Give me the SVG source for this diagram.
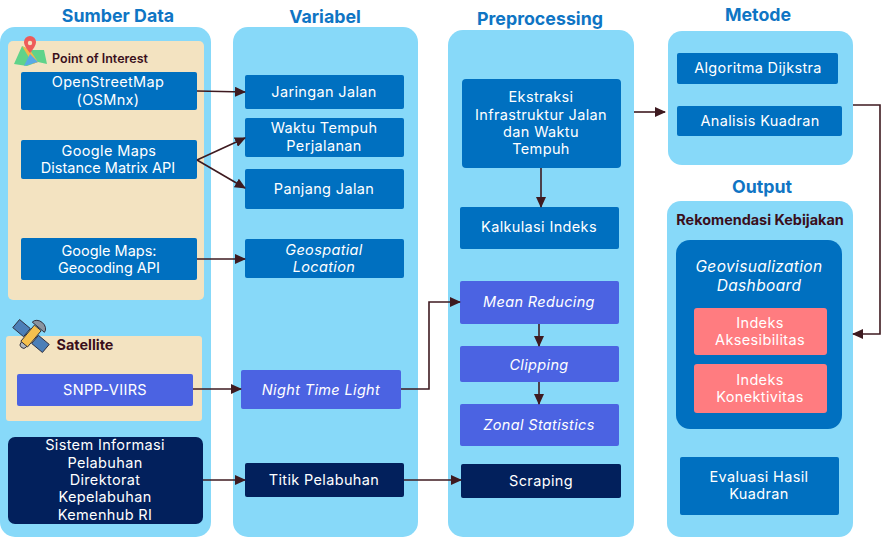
<svg xmlns="http://www.w3.org/2000/svg" width="886" height="537" viewBox="0 0 886 537">
<style>
text{font-family:"Inter","Liberation Sans",sans-serif;text-anchor:middle}
.h{font-size:17.8px;font-weight:700;fill:#0F75C4}
.t{font-size:14.5px;letter-spacing:.35px;fill:#fff}
.s{letter-spacing:0}
.i{font-style:italic}
.l{font-size:15.5px}
.d{font-size:14.4px;font-weight:700;fill:#3A0F1C}
.p{fill:#87D9F9}
.b{fill:#F3E3C1}
.blue{fill:#0070C0}
.ind{fill:#4B63E2}
.navy{fill:#02205C}
.red{fill:#FF7C80}
.c{fill:none;stroke:#3E1A20;stroke-width:1.6}
.o{stroke:#2b2b3a;stroke-width:1}
</style>
<defs><marker id="a" markerUnits="userSpaceOnUse" markerWidth="11" markerHeight="10" refX="10" refY="5" orient="auto"><path d="M0 0L11 5L0 10Z" fill="#3E1A20"/></marker></defs>
<g id="panels">
<rect class="p" x="0" y="27" width="211" height="510" rx="15"/>
<rect class="p" x="233" y="27" width="185" height="510" rx="15"/>
<rect class="p" x="448" y="30" width="186" height="507" rx="15"/>
<rect class="p" x="668" y="31" width="185" height="134" rx="14"/>
<rect class="p" x="667" y="201" width="186" height="336" rx="14"/>
<rect class="b" x="8" y="41" width="196" height="259" rx="5"/>
<rect class="b" x="6" y="336" width="196" height="85" rx="3"/>
</g>
<g id="titles">
<text class="h" x="118" y="22">Sumber Data</text>
<text class="h" x="325" y="23">Variabel</text>
<text class="h" x="540" y="25">Preprocessing</text>
<text class="h" x="758" y="21">Metode</text>
<text class="h" x="762" y="193">Output</text>
</g>
<g id="poi-label">
<path d="M14 64L22 46L30 50L44 50L47 64L38 62L27 66Z" fill="#5FD38A"/>
<path d="M22 46L30 50L38 62L33 64Z" fill="#F2B84B"/>
<path d="M24 66L30 54L38 62Z" fill="#5AA9E6"/>
<path d="M30 53C25 47 24 44 24 42A6 6 0 0 1 36 42C36 44 35 47 30 53Z" fill="#EE5A5A"/>
<circle cx="30" cy="43" r="2.2" fill="#F3E3C1"/>
<text class="d" x="100" y="63" style="font-size:12.5px;font-weight:600">Point of Interest</text>
</g>
<g id="sat-label">
<g transform="translate(31 336) rotate(40) scale(.88)">
<path class="o" d="M-9 -13A9 7 0 0 1 9 -13Z" fill="#8A94A0"/>
<circle class="o" cx="0" cy="13" r="4" fill="#B0B6BE"/>
<rect class="o" x="-22" y="-6" width="16" height="12" fill="#4C7FB8"/>
<rect class="o" x="6" y="-6" width="16" height="12" fill="#4C7FB8"/>
<rect class="o" x="-5" y="-12" width="10" height="24" fill="#F5C04E"/>
</g>
<text class="d" x="85" y="350">Satellite</text>
</g>
<g id="n1"><rect class="blue" x="21" y="72" width="176" height="38" rx="2"/><text class="t" x="108" y="87">OpenStreetMap</text><text class="t" x="108" y="105">(OSMnx)</text></g>
<g id="n2"><rect class="blue" x="21" y="140" width="176" height="39" rx="2"/><text class="t" x="109" y="156">Google Maps</text><text class="t s" x="108" y="173">Distance Matrix API</text></g>
<g id="n3"><rect class="blue" x="21" y="238" width="176" height="42" rx="2"/><text class="t s" x="109" y="256">Google Maps:</text><text class="t s" x="109" y="273">Geocoding API</text></g>
<g id="n4"><rect class="ind" x="17" y="374" width="176" height="32" rx="2"/><text class="t" x="105" y="395">SNPP-VIIRS</text></g>
<g id="n5"><rect class="navy" x="8" y="437" width="195" height="87" rx="7"/><text class="t" x="105" y="450">Sistem Informasi</text><text class="t" x="105" y="468">Pelabuhan</text><text class="t" x="105" y="485">Direktorat</text><text class="t" x="105" y="502">Kepelabuhan</text><text class="t" x="105" y="520">Kemenhub RI</text></g>
<g id="v1"><rect class="blue" x="245" y="75" width="159" height="34" rx="2"/><text class="t" x="324" y="97">Jaringan Jalan</text></g>
<g id="v2"><rect class="blue" x="245" y="118" width="159" height="39" rx="2"/><text class="t" x="324" y="133">Waktu Tempuh</text><text class="t" x="324" y="151">Perjalanan</text></g>
<g id="v3"><rect class="blue" x="245" y="169" width="159" height="40" rx="2"/><text class="t" x="324" y="194">Panjang Jalan</text></g>
<g id="v4"><rect class="blue" x="245" y="239" width="159" height="39" rx="2"/><text class="t i" x="324" y="255">Geospatial</text><text class="t i" x="324" y="272">Location</text></g>
<g id="v5"><rect class="ind" x="241" y="370" width="160" height="39" rx="2"/><text class="t i" x="321" y="395">Night Time Light</text></g>
<g id="v6"><rect class="navy" x="245" y="463" width="159" height="34" rx="2"/><text class="t" x="324" y="485">Titik Pelabuhan</text></g>
<g id="p1"><rect class="blue" x="462" y="79" width="159" height="89" rx="4"/><text class="t" x="541" y="102">Ekstraksi</text><text class="t" x="541" y="120">Infrastruktur Jalan</text><text class="t" x="541" y="137">dan Waktu</text><text class="t" x="541" y="154">Tempuh</text></g>
<g id="p2"><rect class="blue" x="460" y="207" width="159" height="42" rx="2"/><text class="t" x="539" y="232">Kalkulasi Indeks</text></g>
<g id="p3"><rect class="ind" x="460" y="281" width="159" height="43" rx="2"/><text class="t i" x="539" y="307">Mean Reducing</text></g>
<g id="p4"><rect class="ind" x="460" y="346" width="159" height="36" rx="2"/><text class="t i" x="539" y="370">Clipping</text></g>
<g id="p5"><rect class="ind" x="460" y="404" width="159" height="42" rx="2"/><text class="t i" x="539" y="430">Zonal Statistics</text></g>
<g id="p6"><rect class="navy" x="461" y="464" width="160" height="34" rx="2"/><text class="t" x="541" y="486">Scraping</text></g>
<g id="m1"><rect class="blue" x="677" y="53" width="161" height="31" rx="2"/><text class="t" x="758" y="73">Algoritma Dijkstra</text></g>
<g id="m2"><rect class="blue" x="677" y="106" width="165" height="30" rx="2"/><text class="t" x="760" y="126">Analisis Kuadran</text></g>
<g id="o0"><text class="d" x="760" y="225">Rekomendasi Kebijakan</text></g>
<g id="o1"><rect class="blue" x="676" y="240" width="166" height="189" rx="14"/><text class="t i l" x="759" y="272">Geovisualization</text><text class="t i l" x="759" y="291">Dashboard</text></g>
<g id="o2"><rect class="red" x="694" y="308" width="133" height="47" rx="3"/><text class="t" x="760" y="328">Indeks</text><text class="t" x="760" y="345">Aksesibilitas</text></g>
<g id="o3"><rect class="red" x="694" y="364" width="133" height="49" rx="3"/><text class="t" x="760" y="385">Indeks</text><text class="t" x="760" y="402">Konektivitas</text></g>
<g id="o4"><rect class="blue" x="680" y="457" width="159" height="58" rx="2"/><text class="t" x="759" y="482">Evaluasi Hasil</text><text class="t" x="759" y="499">Kuadran</text></g>
<g id="connectors">
<path class="c" marker-end="url(#a)" d="M197 91L245 92"/>
<path class="c" marker-end="url(#a)" d="M197 160L245 138"/>
<path class="c" marker-end="url(#a)" d="M197 160L245 188"/>
<path class="c" marker-end="url(#a)" d="M197 259L245 259"/>
<path class="c" marker-end="url(#a)" d="M193 389L241 389"/>
<path class="c" marker-end="url(#a)" d="M203 480L245 480"/>
<path class="c" marker-end="url(#a)" d="M401 389H429V302H460"/>
<path class="c" marker-end="url(#a)" d="M404 480H461"/>
<path class="c" marker-end="url(#a)" d="M541 168V207"/>
<path class="c" marker-end="url(#a)" d="M539 324V346"/>
<path class="c" marker-end="url(#a)" d="M539 382V404"/>
<path class="c" marker-end="url(#a)" d="M634 112H665"/>
<path class="c" marker-end="url(#a)" d="M853 105H880V334H853"/>
</g>
</svg>
